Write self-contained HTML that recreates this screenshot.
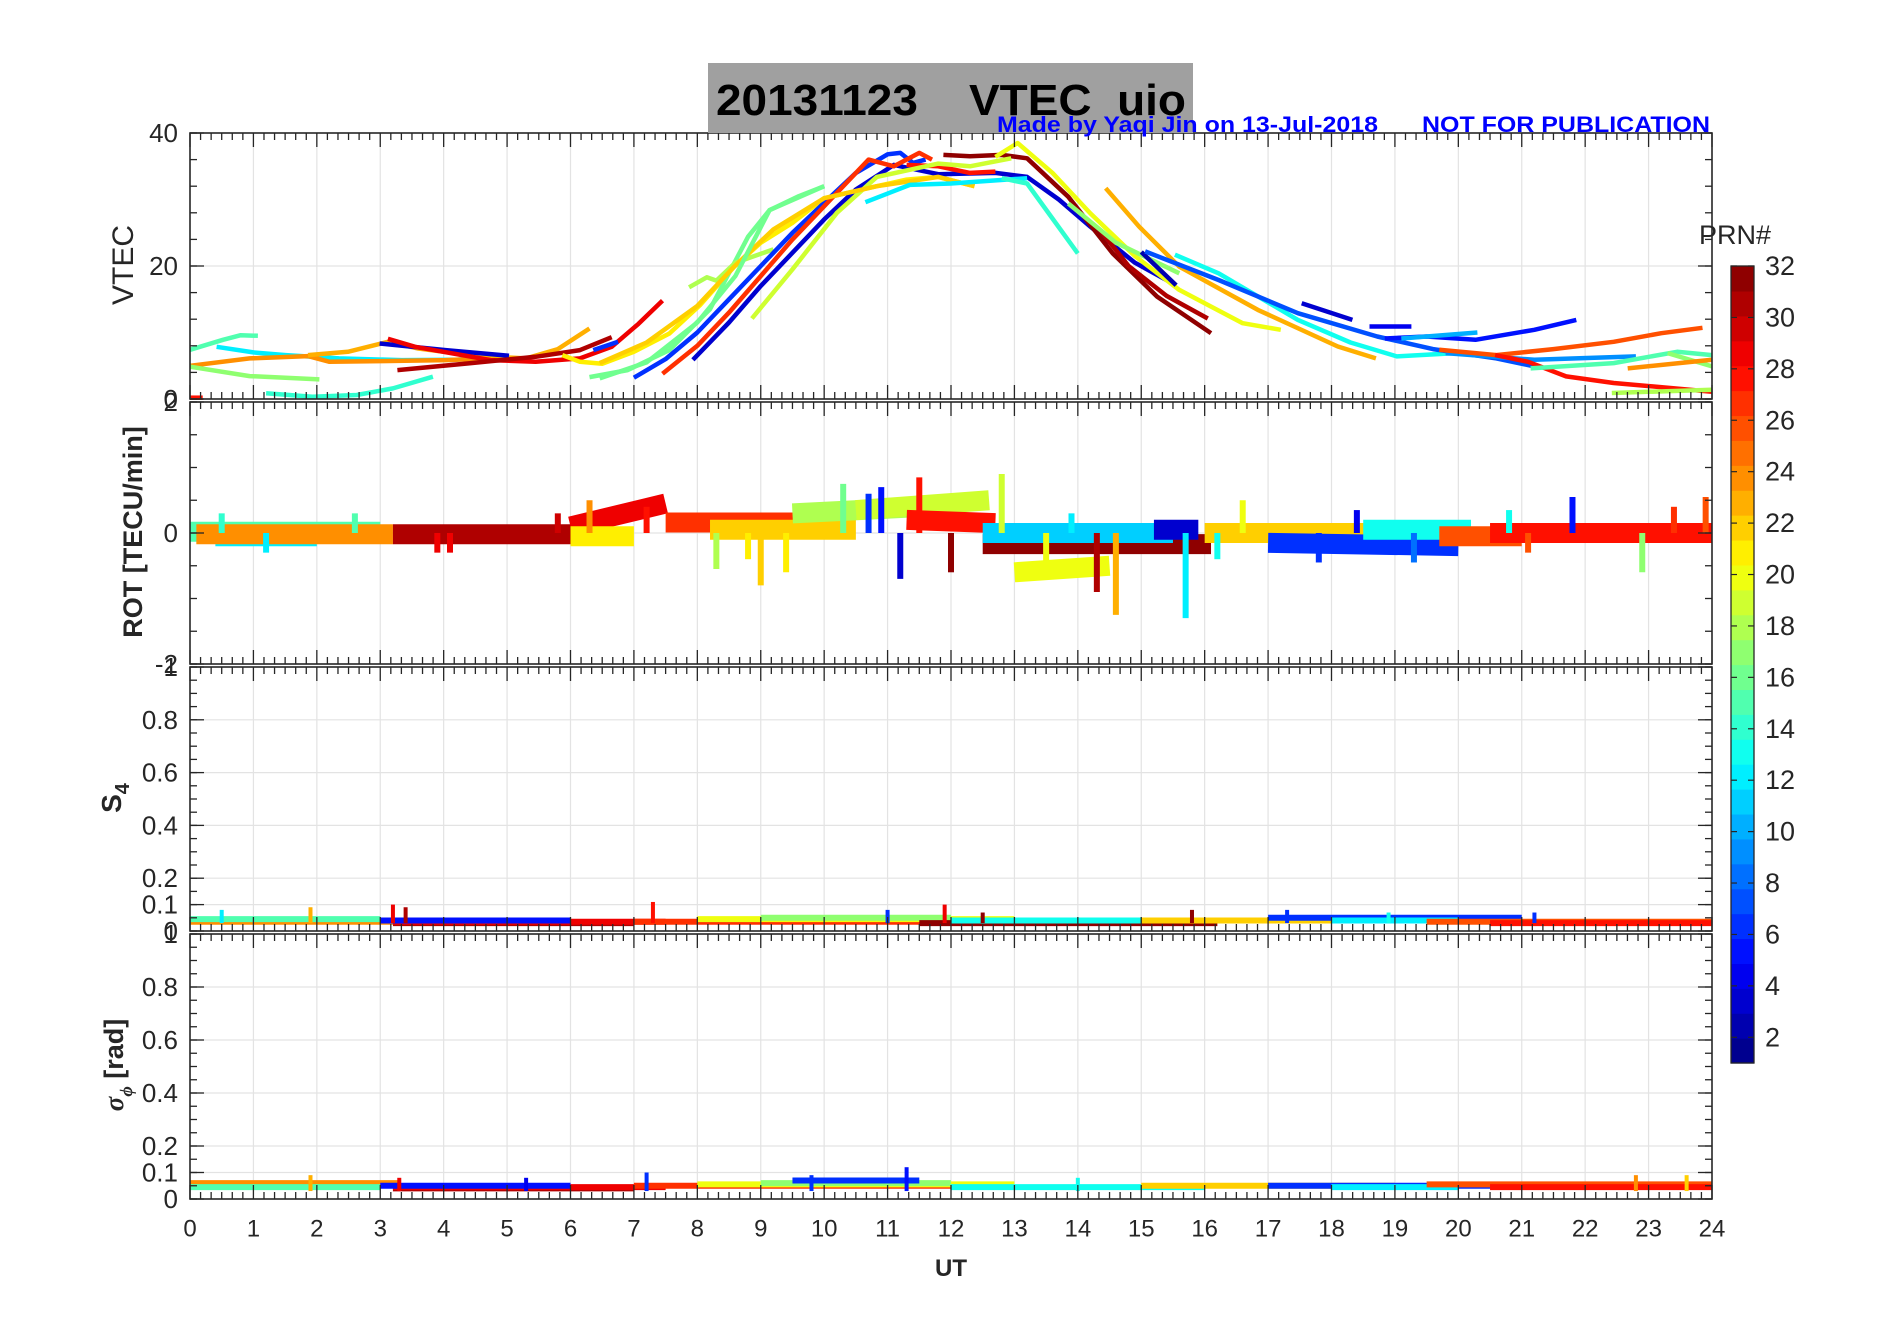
<!DOCTYPE html>
<html><head><meta charset="utf-8"><title>20131123 VTEC uio</title>
<style>
html,body{margin:0;padding:0;background:#fff;}
svg{display:block;font-family:"Liberation Sans",Arial,sans-serif;}
</style></head>
<body>
<svg id="fig" width="1902" height="1330" viewBox="0 0 1902 1330" xmlns="http://www.w3.org/2000/svg">
<rect x="0" y="0" width="1902" height="1330" fill="#fff"/>
<g id="grid"></g>
<g id="marks"></g>
<g id="axes"></g>
<rect x="708" y="63" width="485" height="70" fill="#a0a0a0"/>
<text x="716" y="115" font-size="44" font-weight="bold" fill="#000" textLength="470" lengthAdjust="spacingAndGlyphs" xml:space="preserve">20131123    VTEC  uio</text>
<text x="997" y="132" font-size="22" font-weight="bold" fill="#0000ff" textLength="381" lengthAdjust="spacingAndGlyphs">Made by Yaqi Jin on 13-Jul-2018</text>
<text x="1422" y="132" font-size="22" font-weight="bold" fill="#0000ff" textLength="288" lengthAdjust="spacingAndGlyphs">NOT FOR PUBLICATION</text>
<text transform="translate(133,265) rotate(-90)" text-anchor="middle" font-size="30" fill="#262626">VTEC</text>
<text transform="translate(142,532) rotate(-90)" text-anchor="middle" font-size="27" font-weight="bold" fill="#262626">ROT [TECU/min]</text>
<text transform="translate(121,798) rotate(-90)" text-anchor="middle" font-size="28" font-weight="bold" fill="#262626">S<tspan font-size="20" dy="8">4</tspan></text>
<text transform="translate(123,1065) rotate(-90)" text-anchor="middle" font-size="27" font-weight="bold" fill="#262626"><tspan font-family="Liberation Serif" font-style="italic">σ</tspan><tspan font-size="18" dy="9" font-family="Liberation Serif" font-style="italic">ϕ</tspan><tspan dy="-9"> [rad]</tspan></text>
<text x="951" y="1276" text-anchor="middle" font-size="24" font-weight="bold" fill="#262626">UT</text>
<g id="cbar"></g>
<text x="1699" y="244" font-size="27" fill="#262626">PRN#</text>
</svg>
<script>
// ---------- data ----------
const hourTicks = [0,1,2,3,4,5,6,7,8,9,10,11,12,13,14,15,16,17,18,19,20,21,22,23,24];
const vtecTicks = [0,20,40];
const rotTicks = [-2,0,2];
const s4Ticks = [0,0.1,0.2,0.4,0.6,0.8,1];
const cbarTicks = [2,4,6,8,10,12,14,16,18,20,22,24,26,28,30,32];

// VTEC tracks: PRN numbers and [UT, VTEC] points
const vtecPrn = [15,12,24,23,17,14,3,29,31,6,21,16,18,28,
                 6,3,27,28,32,31,20,19,22,16,12,14,23,17,2,
                 13,7,5,3,4,10,9,26,28,15,17,24,18];
const vtecTracks = [
 [[0,7.4],[0.52,8.9],[0.8,9.6],[1.07,9.5]],
 [[0.42,7.85],[1.0,7.0],[1.51,6.6],[2.35,6.1],[3.34,5.85],[4.2,5.9],[4.85,6.6]],
 [[0,5.0],[0.94,6.1],[1.86,6.45],[2.2,5.6],[3.0,5.7],[4.03,5.85],[4.74,6.1]],
 [[1.86,6.6],[2.49,7.1],[3.12,8.6],[3.6,7.6],[4.5,6.5],[5.3,6.1],[5.8,7.5],[6.3,10.6]],
 [[0,4.85],[0.94,3.45],[2.04,2.95]],
 [[1.2,0.85],[1.93,0.35],[2.63,0.6],[3.2,1.6],[3.83,3.35]],
 [[2.99,8.35],[4.03,7.35],[5.03,6.5]],
 [[3.12,9.05],[3.55,7.85],[4.74,5.85],[5.45,5.6],[6.15,6.1],[6.65,7.85],[7.07,11.3],[7.45,14.8]],
 [[3.27,4.35],[4.39,5.35],[5.45,6.35],[6.15,7.35],[6.65,9.3]],
 [[6.36,7.35],[6.75,8.6]],
 [[5.87,6.6],[6.15,5.6],[6.5,5.3],[7.0,7.1],[7.56,9.85],[8.04,14.1],[8.58,19.9],[9.0,23.5],[9.5,26.5],[10.0,30.2],[10.83,32],[11.3,33.0],[11.8,33.4],[12.37,32]],
 [[6.3,3.3],[6.9,4.35],[7.56,7.35],[8.2,13.5],[8.8,24.4],[9.14,28.4],[9.6,30.5],[10.0,32]],
 [[7.87,16.8],[8.15,18.3],[8.3,17.8],[8.6,20.5],[9.2,22.5]],
 [[0,0.2],[0.2,0.2]],
 [[7.0,3.2],[7.5,6],[8,10],[8.5,15],[9,20],[9.5,25],[10,29.5],[10.5,34],[11,36.8],[11.2,37],[11.4,35.5],[11.6,36]],
 [[7.93,5.9],[8.5,11.5],[9,17],[9.5,22],[10,27],[10.5,31.5],[11.1,35.2],[11.8,33.8],[12.7,34],[13.2,33.4],[13.7,30],[14.2,25.9],[14.9,20.5],[15.55,17.1]],
 [[7.45,3.8],[8,8],[8.5,13],[9,18.5],[9.5,24],[10,29],[10.7,36],[11.1,35],[11.5,37],[11.7,36]],
 [[11.3,35.2],[11.8,35],[12.3,34],[12.7,34.2]],
 [[11.88,36.7],[12.3,36.5],[12.8,36.7],[13.2,36.2],[13.85,30.4],[14.55,21.9],[15.25,15.4],[16.1,9.9]],
 [[14.35,25.4],[14.8,20],[15.4,15.5],[16.05,12.1]],
 [[12.7,36.4],[13.05,38.5],[13.6,34],[14.2,27.9],[14.9,21.5],[15.6,16.4],[16.6,11.4],[17.2,10.4]],
 [[8.86,12.1],[9.5,19.5],[10.2,28],[10.83,33.4],[11.8,35.4],[12.3,35],[12.95,36.2]],
 [[6.46,5.4],[7.2,8.5],[8.0,14],[8.58,19.9],[9.2,25.5],[10.0,30.2],[10.83,32],[11.8,33.4],[12.37,32]],
 [[6.46,3.1],[7.2,5.5],[8.0,11.5],[8.6,18.5],[9.14,28.4],[10.0,32]],
 [[10.65,29.6],[11.35,32.2],[12.0,32.4],[13.2,33.2]],
 [[12.8,33.2],[13.2,32.4],[14.0,21.9]],
 [[14.44,31.7],[14.97,25.9],[15.6,19.9],[16.84,13.4],[18.1,7.9],[18.7,6.1]],
 [[13.85,29.4],[14.6,23.5],[15.6,18.9]],
 [[15.0,22.1],[15.55,17.1]],
 [[15.53,21.7],[16.22,18.9],[17.47,11.9],[18.3,8.5],[19.03,6.4],[19.96,6.9]],
 [[15.06,22.2],[16.22,17.9],[17.47,12.9],[18.72,9.4],[19.6,7.5],[20.6,6.1],[21.2,4.9]],
 [[18.84,9.1],[19.5,9.4],[20.27,8.9],[21.2,10.4],[21.86,11.9]],
 [[17.53,14.4],[18.33,11.9]],
 [[18.6,10.9],[19.26,10.9]],
 [[19.1,9.1],[20.3,10.0]],
 [[19.8,6.9],[21.2,5.9],[22.8,6.4]],
 [[19.7,7.4],[20.6,6.6],[21.5,7.5],[22.45,8.6],[23.2,9.9],[23.85,10.7]],
 [[20.58,6.6],[21.1,5.6],[21.7,3.4],[22.45,2.4],[23.3,1.7],[24,1.1]],
 [[21.14,4.6],[22.45,5.4],[23.45,7.1],[24,6.6]],
 [[23.3,6.9],[24,4.9]],
 [[22.67,4.6],[24,5.9]],
 [[22.42,0.9],[24,1.4]]
];

// ROT bands: PRN, start UT, end UT, center values at start / end
const rotPrn   = [15,12,24,31,29,21,27,22,18,19,28,32,11,20,22,6,13,26,28,3];
const rotStart = [0,0.4,0.1,3.2,6.0,6.0,7.5,8.2,9.5,10.5,11.3,12.5,12.5,13.0,16.0,17.0,18.5,19.7,20.5,15.2];
const rotEnd   = [3.0,2.0,3.2,6.3,7.5,7.0,10.0,10.5,11.6,12.6,12.7,16.1,15.5,14.5,19.0,20.0,20.2,21.0,24.0,15.9];
const rotC0    = [0.02,-0.05,-0.02,-0.02,0.1,-0.05,0.16,0.05,0.3,0.35,0.2,-0.17,0.0,-0.6,0.0,-0.15,0.05,-0.05,0.0,0.05];
const rotC1    = [0.02,-0.05,-0.02,-0.02,0.45,-0.05,0.16,0.05,0.4,0.5,0.15,-0.17,0.0,-0.5,0.0,-0.2,0.05,-0.05,0.0,0.05];
// ROT spikes: UT, value, PRN
const spikeT = [14.6,15.7,9.0,9.4,11.2,12.0,22.9,8.3,12.8,10.3,11.5,14.3,17.8,21.8,16.6,4.1,13.5,23.9,10.9,1.2,2.6,3.9,5.8,7.2,8.8,10.7,13.9,16.2,18.4,19.3,20.8,21.1,23.4,0.5,6.3];
const spikeV = [-1.25,-1.3,-0.8,-0.6,-0.7,-0.6,-0.6,-0.55,0.9,0.75,0.85,-0.9,-0.45,0.55,0.5,-0.3,-0.55,0.55,0.7,-0.3,0.3,-0.3,0.3,0.4,-0.4,0.6,0.3,-0.4,0.35,-0.45,0.35,-0.3,0.4,0.3,0.5];
const spikeP = [23,12,22,21,3,32,17,18,19,16,28,31,6,5,20,29,20,26,5,12,15,29,30,28,21,6,12,13,4,8,13,26,27,14,24];

// S4 / sigma-phi bands: PRN, start, end, level
const s4Prn   = [24,15,31,29,5,27,20,17,32,13,22,6,12,26,28];
const s4Start = [0,0,3.2,3.2,3.0,7,8,9,11.5,12,15,17,18,19.5,20.5];
const s4End   = [3.3,3.0,7,7.5,6,12,13,12,16.2,16,19,21,20,24,24];
const s4Val   = [0.035,0.045,0.03,0.035,0.04,0.035,0.045,0.05,0.03,0.04,0.04,0.05,0.04,0.035,0.03];
const s4SpikeT = [0.5,1.9,3.2,3.4,7.3,11.0,11.9,12.5,15.8,17.3,21.2,18.9];
const s4SpikeV = [0.08,0.09,0.1,0.09,0.11,0.08,0.1,0.07,0.08,0.08,0.07,0.07];
const s4SpikeP = [12,23,29,31,28,6,29,32,32,6,6,13];

const sigPrn   = [24,15,31,29,5,27,20,17,6,13,22,6,12,26,28];
const sigStart = [0,0,3.2,3.2,3.0,7,8,9,9.5,12,15,17,18,19.5,20.5];
const sigEnd   = [3.3,3.0,7,7.5,6,12,13,12,11.5,16,19,21,20,24,24];
const sigVal   = [0.06,0.045,0.04,0.045,0.05,0.05,0.055,0.06,0.07,0.045,0.05,0.05,0.045,0.055,0.045];
const sigSpikeT = [1.9,3.3,5.3,7.2,9.8,11.3,14.0,22.8,23.6];
const sigSpikeV = [0.09,0.08,0.08,0.1,0.09,0.12,0.08,0.09,0.09];
const sigSpikeP = [23,29,4,6,6,5,13,24,22];

// ---------- layout ----------
const L=190, R=1712;
const P = {vtec:[133,399,0,40], rot:[402,664,-2,2], s4:[667,931,0,1], sig:[934,1199,0,1]};
const NS="http://www.w3.org/2000/svg";
function X(t){return L+(t/24)*(R-L);}
function Yf(p){const [top,bot,lo,hi]=P[p];return v=>bot-(v-lo)/(hi-lo)*(bot-top);}
function jet(prn){const i=prn-1;const x=(i+0.5)/32;
 const c=v=>Math.round(255*Math.max(0,Math.min(1,v)));
 return `rgb(${c(1.5-Math.abs(4*x-3))},${c(1.5-Math.abs(4*x-2))},${c(1.5-Math.abs(4*x-1))})`;}
function el(tag,attrs,parent){const e=document.createElementNS(NS,tag);for(const k in attrs)e.setAttribute(k,attrs[k]);parent.appendChild(e);return e;}
const grid=document.getElementById('grid'),marks=document.getElementById('marks'),axes=document.getElementById('axes'),cbar=document.getElementById('cbar');

// grids
for(const p in P){const [top,bot]=P[p];const Y=Yf(p);
 hourTicks.forEach(h=>{if(h>0&&h<24){const g=el('line',{x1:X(h),x2:X(h),y1:top,y2:bot,stroke:'#e3e3e3','stroke-width':1.2},grid);
  
  }});
 const yt = p==='vtec'?[20]:p==='rot'?[0]:[0.1,0.2,0.4,0.6,0.8];
 yt.forEach(v=>{const g=el('line',{x1:L,x2:R,y1:Y(v),y2:Y(v),stroke:'#e3e3e3','stroke-width':1.2},grid);
  
  });
}

// VTEC lines
const Yv=Yf('vtec');
vtecTracks.forEach((tr,i)=>{
 const pl=el('polyline',{points:tr.map(q=>X(q[0]).toFixed(1)+','+Yv(q[1]).toFixed(1)).join(' '),fill:'none',stroke:jet(vtecPrn[i]),'stroke-width':4.5,'stroke-linejoin':'round'},marks);
 
 
});

// ROT bands
const Yr=Yf('rot');
rotPrn.forEach((prn,i)=>{
 const pl=el('line',{x1:X(rotStart[i]),x2:X(rotEnd[i]),y1:Yr(rotC0[i]),y2:Yr(rotC1[i]),stroke:jet(prn),'stroke-width':20},marks);
 
 
});
spikeT.forEach((t,i)=>{
 const s=el('line',{x1:X(t),x2:X(t),y1:Yr(0),y2:Yr(spikeV[i]),stroke:jet(spikeP[i]),'stroke-width':6},marks);
 
 
});

// S4 & sigma
function bands(p,prns,st,en,val,sT,sV,sP,nm){const Y=Yf(p);
 prns.forEach((prn,i)=>{const b=el('line',{x1:X(st[i]),x2:X(en[i]),y1:Y(val[i]),y2:Y(val[i]),stroke:jet(prn),'stroke-width':6},marks);
  
  });
 sT.forEach((t,i)=>{const s=el('line',{x1:X(t),x2:X(t),y1:Y(0.03),y2:Y(sV[i]),stroke:jet(sP[i]),'stroke-width':4},marks);
  
  });
}
bands('s4',s4Prn,s4Start,s4End,s4Val,s4SpikeT,s4SpikeV,s4SpikeP,'s4');
bands('sig',sigPrn,sigStart,sigEnd,sigVal,sigSpikeT,sigSpikeV,sigSpikeP,'sigma');

// axes frames, ticks, labels
const AX='#262626';
function tickLabel(x,y,txt,anchor,size,name){const t=el('text',{x:x,y:y,'text-anchor':anchor,'font-size':size,fill:AX,'dominant-baseline':'central'},axes);
 t.textContent=txt;
 
 }
for(const p in P){const [top,bot,lo,hi]=P[p];const Y=Yf(p);
 const fr=el('rect',{x:L,y:top,width:R-L,height:bot-top,fill:'none',stroke:AX,'stroke-width':1.6},axes);
 
 
 for(let k=0;k<=144;k++){const t=k/6;const major=k%6===0;const len=major?14:7;
  el('line',{x1:X(t),x2:X(t),y1:top,y2:top+len,stroke:AX,'stroke-width':1.3},axes);
  el('line',{x1:X(t),x2:X(t),y1:bot,y2:bot-len,stroke:AX,'stroke-width':1.3},axes);}
 let minor;
 if(p==='vtec'){minor=[];for(let v=0;v<=40;v+=4)minor.push(v);}
 else if(p==='rot'){minor=[];for(let v=-2;v<=2;v+=0.5)minor.push(v);}
 else {minor=[];for(let v=0;v<=1.0001;v+=0.05)minor.push(v);}
 minor.forEach(v=>{const len=7;el('line',{x1:L,x2:L+len,y1:Y(v),y2:Y(v),stroke:AX,'stroke-width':1.3},axes);
  el('line',{x1:R,x2:R-len,y1:Y(v),y2:Y(v),stroke:AX,'stroke-width':1.3},axes);});
 const labs = p==='vtec'?vtecTicks:p==='rot'?rotTicks:s4Ticks;
 labs.forEach(v=>{el('line',{x1:L,x2:L+14,y1:Y(v),y2:Y(v),stroke:AX,'stroke-width':1.3},axes);
  el('line',{x1:R,x2:R-14,y1:Y(v),y2:Y(v),stroke:AX,'stroke-width':1.3},axes);
  tickLabel(178,Y(v),String(v),'end',26,p+'-tick-label');});
}
hourTicks.forEach(h=>tickLabel(X(h),1229,String(h),'middle',24,'x-tick-label'));

// colorbar
const cbTop=266,cbBot=1063,cbL=1731,cbW=23;const bh=(cbBot-cbTop)/32;
for(let k=1;k<=32;k++){const r=el('rect',{x:cbL,y:cbBot-k*bh,width:cbW,height:bh+0.6,fill:jet(k)},cbar);
 
 }
el('rect',{x:cbL,y:cbTop,width:cbW,height:cbBot-cbTop,fill:'none',stroke:AX,'stroke-width':1.3},cbar);
const cbY=v=>cbTop+(32-v)*(cbBot-cbTop)/31;
cbarTicks.forEach(v=>{el('line',{x1:cbL+cbW-6,x2:cbL+cbW,y1:cbY(v),y2:cbY(v),stroke:AX,'stroke-width':1.2},cbar);
 el('line',{x1:cbL,x2:cbL+6,y1:cbY(v),y2:cbY(v),stroke:AX,'stroke-width':1.2},cbar);
 const t=el('text',{x:1765,y:cbY(v),'font-size':27,fill:AX,'dominant-baseline':'central'},cbar);
 t.textContent=String(v);
 
 });
</script>
</body></html>
